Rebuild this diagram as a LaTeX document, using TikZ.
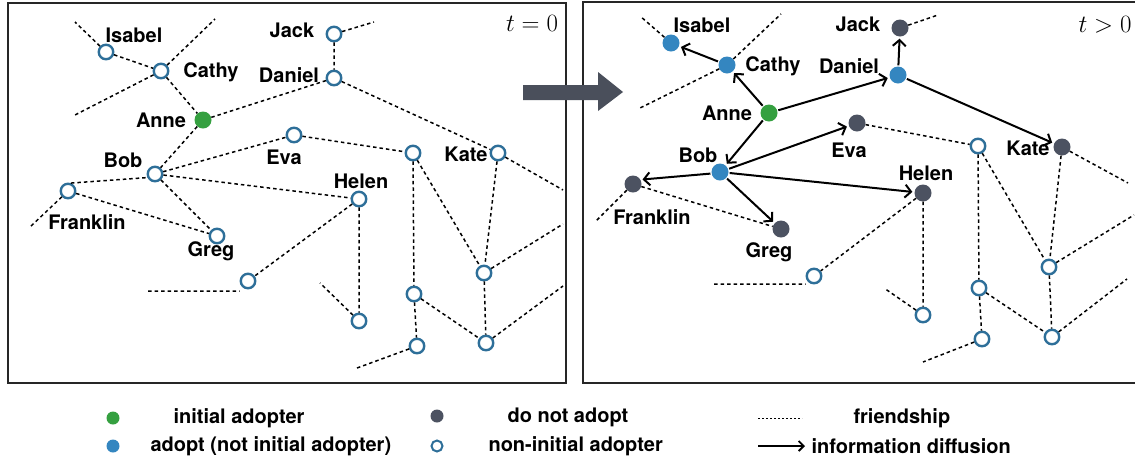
\documentclass[tikz,border=0pt]{standalone}
\usepackage{fontspec}
\newfontfamily\lblfont{TeX Gyre Heros}
\usetikzlibrary{arrows.meta}

\definecolor{adoptgreen}{HTML}{35A040}
\definecolor{adoptblue}{HTML}{3486C0}
\definecolor{nogrey}{HTML}{4C5261}
\definecolor{openblue}{HTML}{2E6F99}
\definecolor{arrowgrey}{HTML}{4A4F5B}

\tikzset{
  panel/.style={line width=2.4pt, draw=black!85, line join=miter},
  friend/.style={dash pattern=on 3.5pt off 3pt, line width=1.5pt},
  diffuse/.style={-{Straight Barb[length=6pt,width=13pt]}, line width=2pt, shorten >=2pt, shorten <=1pt},
  person/.style={circle, minimum size=17pt, inner sep=0pt},
  seed/.style={person, fill=adoptgreen},
  adopted/.style={person, fill=adoptblue},
  rejected/.style={person, fill=nogrey},
  waiting/.style={person, draw=openblue, line width=2.4pt, fill=white, minimum size=14.5pt},
  who/.style={font=\lblfont\bfseries\fontsize{20}{24}\selectfont},
}

\begin{document}
\begin{tikzpicture}[x=1pt, y=-1pt]
  \useasboundingbox (0,0) rectangle (1135,459);

  % left panel, t = 0
  \draw[panel] (8,3) rectangle (566,383);
  \node (t0) at (532,23) {\Huge $t=0$};

  \node[waiting] (isabel0) at (106,52) {};
  \node[waiting] (cathy0) at (161,71) {};
  \node[seed] (anne0) at (203,120) {};
  \node[waiting] (bob0) at (155,174) {};
  \node[waiting] (franklin0) at (68,191) {};
  \node[waiting] (greg0) at (217,236) {};
  \node[waiting] (g20) at (248,281) {};
  \node[waiting] (jack0) at (334,34) {};
  \node[waiting] (daniel0) at (334,78) {};
  \node[waiting] (eva0) at (294,135) {};
  \node[waiting] (x10) at (413,153) {};
  \node[waiting] (kate0) at (498,153) {};
  \node[waiting] (helen0) at (359,199) {};
  \node[waiting] (h20) at (359,321) {};
  \node[waiting] (x20) at (414,294) {};
  \node[waiting] (x30) at (417,346) {};
  \node[waiting] (k20) at (484,273) {};
  \node[waiting] (k30) at (486,343) {};

  \node[who] (lisabel0) at (134,35) {Isabel};
  \node[who] (lcathy0) at (211,72) {Cathy};
  \node[who] (lanne0) at (161,120) {Anne};
  \node[who] (lbob0) at (123,160) {Bob};
  \node[who] (lfranklin0) at (87,222) {Franklin};
  \node[who] (lgreg0) at (211,251) {Greg};
  \node[who] (ljack0) at (292,30) {Jack};
  \node[who] (ldaniel0) at (289,75) {Daniel};
  \node[who] (leva0) at (284,157) {Eva};
  \node[who] (lkate0) at (466,154) {Kate};
  \node[who] (lhelen0) at (361,181) {Helen};

  \coordinate (d01) at (75,22);
  \coordinate (d02) at (215,19);
  \coordinate (d03) at (73,116);
  \coordinate (d04) at (374,22);
  \coordinate (d05) at (563,190);
  \coordinate (d06) at (30,227);
  \coordinate (d07) at (148,291);
  \coordinate (d08) at (320,283);
  \coordinate (d09) at (357,368);
  \coordinate (d10) at (563,224);
  \coordinate (d11) at (563,286);

  \draw[friend] (isabel0) -- (d01) (isabel0) -- (cathy0) (cathy0) -- (d02) (cathy0) -- (d03);
  \draw[friend] (cathy0) -- (anne0) (anne0) -- (bob0) (anne0) -- (daniel0);
  \draw[friend] (jack0) -- (daniel0) (jack0) -- (d04) (daniel0) -- (kate0);
  \draw[friend] (bob0) -- (eva0) (franklin0.70) -- (bob0.205) (bob0) -- (greg0) (bob0) -- (helen0);
  \draw[friend] (franklin0) -- (greg0) (franklin0) -- (d06);
  \draw[friend] (eva0) -- (x10) (x10) -- (x20) (x10) -- (k20) (kate0) -- (k20) (kate0) -- (d05);
  \draw[friend] (helen0) -- (g20) (d07) -- (d07 -| g20.west) (helen0) -- (h20) (h20) -- (d08);
  \draw[friend] (x20) -- (x30) (x20) -- (k30) (x30) -- (d09);
  \draw[friend] (k20) -- (k30) (k20) -- (d10) (k30) -- (d11);

  % right panel, t > 0
  \draw[panel] (1135,2) -- (583,2) -- (583,383) -- (1135,383);
  \node (t1) at (1105,25) {\Huge $t>0$};

  \node[adopted] (isabel1) at (671,43) {};
  \node[adopted] (cathy1) at (727,65) {};
  \node[seed] (anne1) at (769,113) {};
  \node[adopted] (bob1) at (720,172) {};
  \node[rejected] (franklin1) at (633,184) {};
  \node[rejected] (greg1) at (781,229) {};
  \node[waiting] (g21) at (814,276) {};
  \node[rejected] (jack1) at (900,28) {};
  \node[adopted] (daniel1) at (898,75) {};
  \node[rejected] (eva1) at (857,123) {};
  \node[waiting] (x11) at (978,146) {};
  \node[rejected] (kate1) at (1062,147) {};
  \node[rejected] (helen1) at (923,193) {};
  \node[waiting] (h21) at (923,315) {};
  \node[waiting] (x21) at (979,288) {};
  \node[waiting] (x31) at (982,339) {};
  \node[waiting] (k21) at (1049,267) {};
  \node[waiting] (k31) at (1052,337) {};

  \node[who] (lisabel1) at (702,25) {Isabel};
  \node[who] (lcathy1) at (773,66) {Cathy};
  \node[who] (lanne1) at (727,113) {Anne};
  \node[who] (lbob1) at (698,155) {Bob};
  \node[who] (lfranklin1) at (652,217) {Franklin};
  \node[who] (lgreg1) at (769,252) {Greg};
  \node[who] (ljack1) at (858,24) {Jack};
  \node[who] (ldaniel1) at (849,66) {Daniel};
  \node[who] (leva1) at (849,150) {Eva};
  \node[who] (lkate1) at (1028,148) {Kate};
  \node[who] (lhelen1) at (926,173) {Helen};

  \coordinate (e01) at (640,16);
  \coordinate (e02) at (781,14);
  \coordinate (e03) at (638,109);
  \coordinate (e04) at (938,15);
  \coordinate (e05) at (1128,183);
  \coordinate (e06) at (595,222);
  \coordinate (e07) at (714,284);
  \coordinate (e08) at (884,288);
  \coordinate (e09) at (923,362);
  \coordinate (e10) at (1134,215);
  \coordinate (e11) at (1127,279);

  \draw[friend] (isabel1) -- (e01) (cathy1) -- (e02) (cathy1) -- (e03) (jack1) -- (e04);
  \draw[friend] (eva1) -- (x11) (x11) -- (x21) (x11) -- (k21) (kate1) -- (k21) (kate1) -- (e05);
  \draw[friend] (franklin1) -- (greg1) (franklin1) -- (e06);
  \draw[friend] (helen1) -- (g21) (e07) -- (e07 -| g21.west) (helen1) -- (h21) (h21) -- (e08);
  \draw[friend] (x21) -- (x31) (x21) -- (k31) (x31) -- (e09);
  \draw[friend] (k21) -- (k31) (k21) -- (e10) (k31) -- (e11);

  \draw[diffuse] (cathy1) -- (isabel1);
  \draw[diffuse] (anne1) -- (cathy1);
  \draw[diffuse] (anne1) -- (daniel1);
  \draw[diffuse] (anne1) -- (bob1);
  \draw[diffuse] (daniel1) -- (jack1);
  \draw[diffuse] (daniel1) -- (kate1);
  \draw[diffuse] (bob1) -- (eva1);
  \draw[diffuse] (bob1.190) -- (franklin1.30);
  \draw[diffuse] (bob1) -- (greg1);
  \draw[diffuse] (bob1) -- (helen1);

  % big arrow between the panels
  \fill[arrowgrey] (523,85) -- (598,85) -- (598,72) -- (623,92) -- (598,111)
    -- (598,100) -- (523,100) -- cycle;

  % legend
  \node[seed, minimum size=13pt] (key1) at (113,418) {};
  \node[adopted, minimum size=13pt] (key2) at (113,446) {};
  \node[rejected, minimum size=13pt] (key3) at (437,416) {};
  \node[waiting, minimum size=11pt, line width=2pt] (key4) at (437,446) {};
  \node[who, anchor=west] (lkey1) at (170,418) {initial adopter};
  \node[who, anchor=west] (lkey2) at (147,446) {adopt (not initial adopter)};
  \node[who, anchor=west] (lkey3) at (504,417) {do not adopt};
  \node[who, anchor=west] (lkey4) at (485,446) {non-initial adopter};
  \coordinate (f0) at (758,418);
  \coordinate (f1) at (802,418);
  \coordinate (a0) at (758,446);
  \coordinate (a1) at (805,446);
  \draw[dash pattern=on 2pt off 2pt, line width=0.9pt] (f0) -- (f1);
  \draw[-{Straight Barb[length=5pt,width=10pt]}, line width=1.8pt] (a0) -- (a1);
  \node[who, anchor=west] (lkey5) at (850,418) {friendship};
  \node[who, anchor=west] (lkey6) at (808,446) {information diffusion};
\end{tikzpicture}
\end{document}
